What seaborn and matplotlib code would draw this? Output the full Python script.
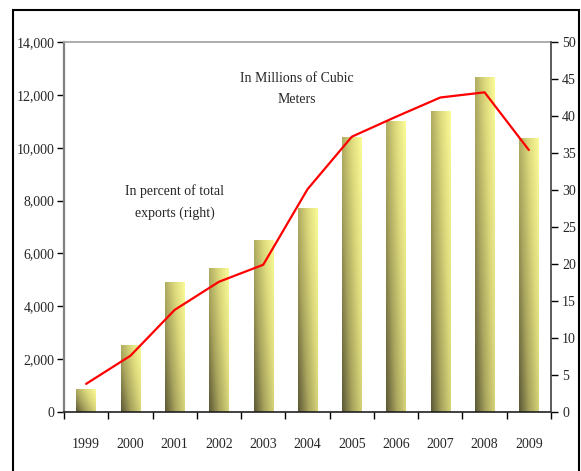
import numpy as np
import pandas as pd
import matplotlib
matplotlib.use("Agg")
import matplotlib.pyplot as plt
from matplotlib.colors import LinearSegmentedColormap
from matplotlib.patches import Rectangle
import seaborn as sns

# Natural gas exports, 1999-2009
years = ["1999", "2000", "2001", "2002", "2003", "2004",
         "2005", "2006", "2007", "2008", "2009"]
volume_mcm = [870, 2540, 4920, 5450, 6510, 7720,
              10400, 11010, 11390, 12670, 10370]
share_pct = [3.8, 7.6, 13.8, 17.6, 19.9, 30.1,
             37.2, 39.9, 42.5, 43.2, 35.4]
left_ticks = [0, 2000, 4000, 6000, 8000, 10000, 12000, 14000]
right_ticks = [0, 5, 10, 15, 20, 25, 30, 35, 40, 45, 50]

df = pd.DataFrame({"year": years, "volume": volume_mcm, "share": share_pct})

sns.set_theme(style="white")
plt.rcParams["font.family"] = ["Liberation Serif", "DejaVu Serif"]
FS = 10

fig = plt.figure(figsize=(5.81, 4.71), dpi=100)
ax = fig.add_axes([64 / 581, 1 - 412 / 471, (551 - 64) / 581, (412 - 42) / 471])

sns.barplot(data=df, x="year", y="volume", ax=ax, width=0.436,
            color="#e6e47a", saturation=1, edgecolor="none", zorder=2)

# Olive-to-pale-yellow diagonal shading inside each bar
cmap = LinearSegmentedColormap.from_list(
    "olive", ["#5c5836", "#a9a55e", "#dcd97c", "#fbfb98"], N=256)
xs = np.linspace(0, 1, 64)
ys = np.linspace(0, 1, 128)
XX, YY = np.meshgrid(xs, ys)
shade = 0.62 * XX + 0.38 * YY
for p in ax.patches:
    x0, y0 = p.get_x(), p.get_y()
    w, h = p.get_width(), p.get_height()
    p.set_facecolor("none")
    im = ax.imshow(shade, cmap=cmap, vmin=0, vmax=1, origin="lower",
                   extent=[x0, x0 + w, y0, y0 + h], aspect="auto",
                   interpolation="bilinear", zorder=2)
    im.set_clip_path(p)

ax.set_xlim(-0.5, len(years) - 0.5)
ax.set_ylim(0, 14000)
ax.set_yticks(left_ticks)
ax.set_yticklabels([f"{v:,}" for v in left_ticks], fontsize=FS)
ax.set_xlabel("")
ax.set_ylabel("")
ax.tick_params(axis="y", which="major", direction="out", length=5, width=1,
               color="black", pad=2, left=True)
ax.tick_params(axis="x", which="major", length=0, pad=19, labelsize=FS)
ax.set_xticks(np.arange(-0.5, len(years), 1.0), minor=True)
ax.tick_params(axis="x", which="minor", direction="out", length=5, width=1,
               color="black", bottom=True)

ax.spines["left"].set_color("#808080")
ax.spines["left"].set_linewidth(1.6)
ax.spines["top"].set_color("#a6a6a6")
ax.spines["top"].set_linewidth(1.3)
ax.spines["bottom"].set_color("#202020")
ax.spines["bottom"].set_linewidth(1.2)
ax.spines["right"].set_visible(False)

ax2 = ax.twinx()
sns.lineplot(data=df, x="year", y="share", ax=ax2, color="#ff0000",
             linewidth=1.6, sort=False, zorder=3)
ax2.set_ylim(0, 50)
ax2.set_xlim(-0.5, len(years) - 0.5)
ax2.set_yticks(right_ticks)
ax2.set_yticklabels([str(v) for v in right_ticks], fontsize=FS)
ax2.set_ylabel("")
ax2.set_xlabel("")
ax2.tick_params(axis="y", direction="out", length=5, width=1, color="black",
                pad=3, right=True)
for s in ["left", "top", "bottom"]:
    ax2.spines[s].set_visible(False)
ax2.spines["right"].set_color("#404040")
ax2.spines["right"].set_linewidth(1.2)

ax.text(0.4785, 0.8729, "In Millions of Cubic\nMeters", transform=ax.transAxes,
        ha="center", va="center", fontsize=FS, linespacing=1.8)
ax.text(0.2279, 0.5676, "In percent of total\nexports (right)",
        transform=ax.transAxes, ha="center", va="center", fontsize=FS,
        linespacing=1.8)

# Outer frame around the chart
fig.patches.append(Rectangle((13 / 581, -0.02), (579 - 13) / 581,
                             1 - 10 / 471 + 0.02, transform=fig.transFigure,
                             fill=False, edgecolor="black", linewidth=1.5))

fig.savefig("out.png", dpi=100)
